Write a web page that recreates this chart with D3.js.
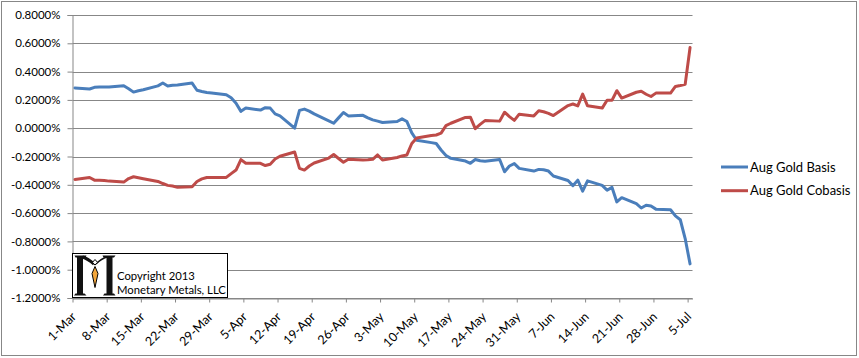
<!DOCTYPE html>
<html>
<head>
<meta charset="utf-8">
<script src="https://cdn.jsdelivr.net/npm/d3@7"></script>
<style>
  html, body { margin: 0; padding: 0; background: #fff; }
  svg { display: block; }
  text { font-family: "Lato", "Liberation Sans", sans-serif; fill: #000; }
</style>
</head>
<body>
<svg id="chart" width="859" height="358"></svg>
<script>
// ---- data (values in percent) ----
const startDate = "2013-03-01";
const endDate = "2013-07-05";
const seriesNames = ["Aug Gold Basis", "Aug Gold Cobasis"];
const basisValues = [
  0.284, 0.277, 0.289, 0.291, 0.291, 0.291, 0.300, 0.279, 0.255, 0.265, 0.272,
  0.299, 0.319, 0.298, 0.304, 0.306, 0.319, 0.268, 0.259, 0.252, 0.249,
  0.236, 0.215, 0.176, 0.119, 0.142, 0.128, 0.145, 0.142, 0.101, 0.087,
  0.000, 0.126, 0.135, 0.121, 0.101, 0.052, 0.035, 0.073, 0.111, 0.087,
  0.091, 0.073, 0.059, 0.050, 0.040,
  0.047, 0.066, 0.047, -0.033, -0.085, -0.102, -0.108, -0.154, -0.193, -0.213,
  -0.232, -0.248, -0.221, -0.230, -0.233, -0.221, -0.308, -0.267, -0.250, -0.284,
  -0.303, -0.291, -0.294, -0.303, -0.338, -0.370, -0.406, -0.367, -0.445, -0.372,
  -0.404, -0.438, -0.418, -0.521, -0.491, -0.533, -0.564, -0.544, -0.550, -0.572,
  -0.576, -0.620, -0.647, -0.780, -0.959
];
const cobasisValues = [
  -0.362, -0.348, -0.367, -0.367, -0.369, -0.374, -0.381, -0.356, -0.343, -0.350, -0.357,
  -0.376, -0.391, -0.404, -0.409, -0.418, -0.414, -0.377, -0.358, -0.348, -0.348,
  -0.348, -0.321, -0.296, -0.222, -0.248, -0.248, -0.264, -0.255, -0.218, -0.198,
  -0.168, -0.284, -0.296, -0.267, -0.246, -0.211, -0.186, -0.214, -0.241, -0.220,
  -0.225, -0.223, -0.220, -0.189, -0.225,
  -0.207, -0.196, -0.189, -0.108, -0.069, -0.051, -0.048, -0.035, 0.018, 0.035,
  0.076, 0.078, -0.003, 0.027, 0.054, 0.050, 0.113, 0.082, 0.055, 0.099,
  0.087, 0.123, 0.116, 0.105, 0.089, 0.160, 0.171, 0.158, 0.241, 0.158,
  0.142, 0.197, 0.197, 0.265, 0.213, 0.254, 0.261, 0.240, 0.224, 0.248,
  0.248, 0.295, 0.302, 0.310, 0.570
];
const xTickLabels = ["1-Mar","8-Mar","15-Mar","22-Mar","29-Mar","5-Apr","12-Apr","19-Apr",
  "26-Apr","3-May","10-May","17-May","24-May","31-May","7-Jun","14-Jun","21-Jun","28-Jun","5-Jul"];
const yTickValues = [0.8, 0.6, 0.4, 0.2, 0.0, -0.2, -0.4, -0.6, -0.8, -1.0, -1.2];
const yTickLabels = ["0.8000%","0.6000%","0.4000%","0.2000%","0.0000%","-0.2000%","-0.4000%",
  "-0.6000%","-0.8000%","-1.0000%","-1.2000%"];
const colors = ["#4A7EBB", "#BE4B48"];
const copyrightLines = ["Copyright 2013", "Monetary Metals, LLC"];

// ---- setup ----
const svg = d3.select("#chart");
const parseISO = d3.utcParse("%Y-%m-%d");
const parseTick = d3.utcParse("%d-%b-%Y");
const start = parseISO(startDate), end = parseISO(endDate);
const tradingDays = d3.utcDays(start, d3.utcDay.offset(end, 1)).filter(d => d.getUTCDay() !== 0 && d.getUTCDay() !== 6);
const midDay = d => d3.utcHour.offset(d, 12);

const plot = { left: 72.5, right: 692.5, top: 15, bottom: 298 };
const x = d3.scaleUtc().domain([start, d3.utcDay.offset(end, 1)]).range([plot.left, plot.right]);
const y = d3.scaleLinear().domain([-1.2, 0.8]).range([plot.bottom, plot.top]);
const gridColor = "#878787";
const fontStack = "Lato, 'Liberation Sans', sans-serif";

// outer frame
svg.append("rect").attr("x", 1.5).attr("y", 1.5).attr("width", 855).attr("height", 354)
  .attr("fill", "#fff").attr("stroke", gridColor).attr("stroke-width", 1);

// gridlines
svg.append("g").selectAll("line").data(yTickValues).join("line")
  .attr("x1", plot.left).attr("x2", plot.right)
  .attr("y1", d => Math.round(y(d)) + 0.5).attr("y2", d => Math.round(y(d)) + 0.5)
  .attr("stroke", gridColor).attr("stroke-width", 1);

// y axis
const yAxis = d3.axisLeft(y).tickValues(yTickValues)
  .tickFormat((d, i) => yTickLabels[i]).tickSize(5).tickPadding(7);
const gy = svg.append("g").attr("transform", `translate(${plot.left},0)`).call(yAxis);
gy.select(".domain").attr("stroke", gridColor);
gy.selectAll(".tick line").attr("stroke", gridColor);
gy.selectAll(".tick text").style("font-family", fontStack)
  .style("font-size", "11.5px").attr("fill", "#000");

// x axis
const tickDates = xTickLabels.map(s => parseTick(s + "-2013"));
const xAxis = d3.axisBottom(x).tickValues(tickDates)
  .tickFormat((d, i) => xTickLabels[i]).tickSize(4).tickSizeOuter(0);
const gx = svg.append("g").attr("transform", `translate(0,${plot.bottom + 0.5})`).call(xAxis);
gx.select(".domain").attr("stroke", gridColor);
gx.selectAll(".tick line").attr("stroke", gridColor);
gx.selectAll(".tick text")
  .style("font-family", fontStack).style("font-size", "12.5px")
  .attr("fill", "#000")
  .attr("text-anchor", "end")
  .attr("x", 0).attr("y", 0).attr("dy", 0)
  .attr("transform", "translate(4,19) rotate(-45)");

// lines
const series = [basisValues, cobasisValues];
const line = d3.line().x((d, i) => x(midDay(tradingDays[i]))).y(d => y(d));
svg.append("g").selectAll("path").data(series).join("path")
  .attr("d", d => line(d))
  .attr("fill", "none")
  .attr("stroke", (d, i) => colors[i])
  .attr("stroke-width", 3)
  .attr("stroke-linejoin", "round")
  .attr("stroke-linecap", "round");

// legend
const legend = svg.append("g").selectAll("g").data(seriesNames).join("g")
  .attr("transform", (d, i) => `translate(721,${167 + i * 23.7})`);
legend.append("line").attr("x1", 0).attr("x2", 27).attr("y1", 0).attr("y2", 0)
  .attr("stroke", (d, i) => colors[i]).attr("stroke-width", 3);
legend.append("text").attr("x", 29).attr("dy", "0.35em")
  .style("font-size", "13px").text(d => d);

// copyright box with logo
const box = svg.append("g").attr("transform", `translate(${plot.left},253.5)`);
box.append("rect").attr("x", 0).attr("y", 0).attr("width", 155).attr("height", 44)
  .attr("fill", "#fff").attr("stroke", "#000").attr("stroke-width", 1);
const logo = box.append("g").attr("fill", "#111");
// stems and serifs of the "M"
logo.append("path").attr("d",
  "M4.5,4 L10.5,4 L10.5,40 L4.5,40 Z " +
  "M2,2 L14,2 L13,4 L3,4 Z " +
  "M1.5,42 L14,42 L12,40 L3,40 Z " +
  "M34,4 L40,4 L40,40 L34,40 Z " +
  "M30,2 L43,2 L41.5,4 L31,4 Z " +
  "M30.5,42 L43,42 L41.5,40 L32,40 Z");
// arms of the "M"
logo.append("path").attr("d", "M10,3.5 Q15,5 21.5,10.5").attr("fill", "none").attr("stroke", "#111").attr("stroke-width", 3);
logo.append("path").attr("d", "M34.5,3.5 Q29,5 23.5,10.5").attr("fill", "none").attr("stroke", "#111").attr("stroke-width", 1.5);
// small figure in logo
box.append("path").attr("d", "M22.5,6 L25,8.8 L22.5,11.6 L20,8.8 Z").attr("fill", "#fff").attr("stroke", "#000").attr("stroke-width", 1);
box.append("path").attr("d", "M22.5,13 L25.5,20 L22.5,34 L19.5,20 Z").attr("fill", "#F3A63B").attr("stroke", "#000").attr("stroke-width", 1);
box.selectAll("text.copy").data(copyrightLines).join("text").attr("class", "copy")
  .attr("x", 44.5).attr("y", (d, i) => 26.5 + i * 14)
  .style("font-size", "11.3px").text(d => d);
</script>
</body>
</html>
